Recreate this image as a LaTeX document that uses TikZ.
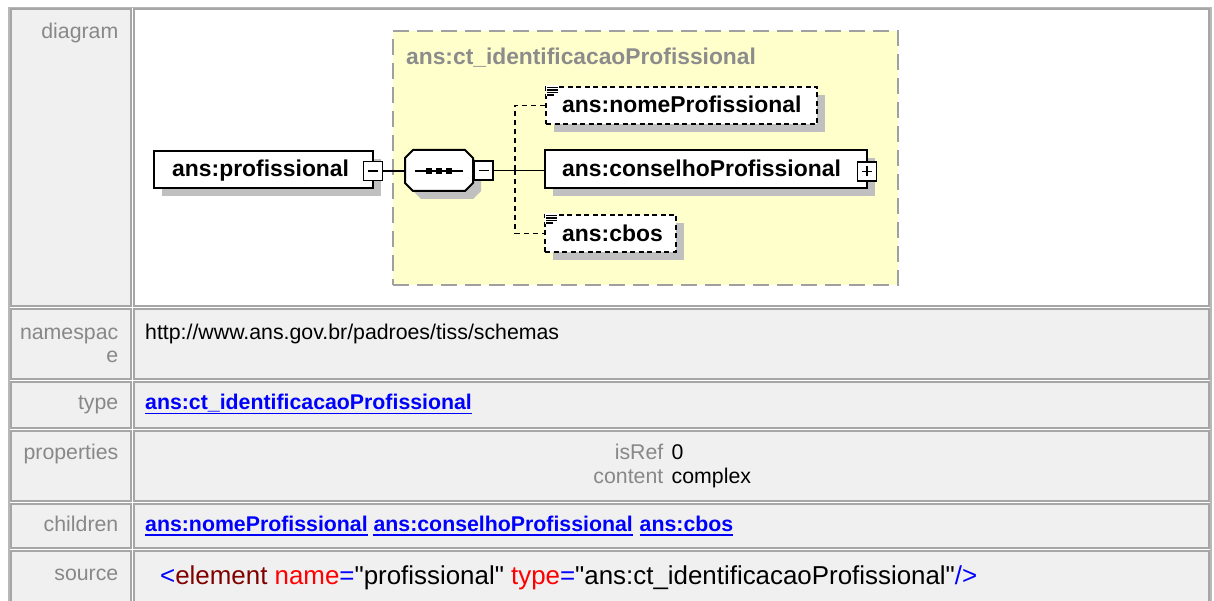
\documentclass[tikz,border=0pt]{standalone}
\usepackage{fontspec}
\setmainfont{Liberation Sans}
\newfontfamily\srcfont{Liberation Sans}[Ligatures=TeXOff]
\usetikzlibrary{shadows}
\definecolor{cellgray}{HTML}{F0F0F0}
\definecolor{tblgray}{HTML}{A6A6A6}
\definecolor{outergray}{HTML}{B8B8B8}
\definecolor{labgray}{HTML}{888888}
\definecolor{linkblue}{HTML}{0000FF}
\definecolor{ylw}{HTML}{FFFFCC}
\definecolor{ylwborder}{HTML}{A0A0A0}
\definecolor{shadowgray}{HTML}{C0C0C0}
\definecolor{titlegray}{HTML}{8C8C8C}
\definecolor{xmlblue}{HTML}{0000FF}
\definecolor{xmlelem}{HTML}{800000}
\definecolor{xmlattr}{HTML}{FF0000}
\newcommand\fsz[1]{\fontsize{#1}{#1}\selectfont}
\tikzset{
  cell/.style={draw=tblgray, line width=2pt},
  lab/.style={anchor=base east, inner sep=0pt, text=labgray, font=\fsz{21.3}},
  val/.style={anchor=base west, inner sep=0pt, font=\fsz{21.3}},
  lnk/.style={anchor=base west, inner sep=0pt, text=linkblue, font=\bfseries\fsz{21.3}},
  ul/.style={draw=linkblue, line width=1.5pt},
  srcstyle/.style={anchor=base west, inner sep=0pt, font=\srcfont\fsz{25.9}},
  ybox/.style={fill=ylw, draw=ylwborder, line width=2.5pt, dash pattern=on 16pt off 8pt, inner sep=0pt},
  ctitle/.style={anchor=base west, inner sep=0pt, text=titlegray, font=\bfseries\fsz{22.8}},
  elbox/.style={draw=black, fill=white, line width=2pt, inner sep=0pt,
    drop shadow={shadow xshift=8pt, shadow yshift=-8pt, fill=shadowgray, opacity=1}},
  optbox/.style={elbox, dash pattern=on 5pt off 3.5pt},
  eltext/.style={anchor=base west, inner sep=0pt, font=\bfseries\fsz{22.9}},
  pmbox/.style={draw=black, fill=white, line width=1.4pt, minimum size=19pt, inner sep=0pt},
  conn/.style={draw=black, line width=1.6pt},
  optconn/.style={conn, dash pattern=on 5pt off 4pt},
  sym/.style={line width=1.4pt},
  docline/.style={line width=1.3pt}
}
\begin{document}
\begin{tikzpicture}[x=1pt,y=-1pt]
\useasboundingbox (0,0) rectangle (1214,601);
\begin{scope}
\clip (0,0) rectangle (1214,601);
\fill[white] (0,0) rectangle (1214,601);
\draw[draw=outergray, line width=1.5pt] (9,7.5) rectangle (1211,640);
\foreach \t/\b/\f in {9.5/306/white, 308.5/379/cellgray, 381.5/428/cellgray, 430.5/501/cellgray, 503.5/548/cellgray, 550.5/640/cellgray} {
  \draw[cell, fill=cellgray] (11,\t) rectangle (131,\b);
  \draw[cell, fill=\f] (133.5,\t) rectangle (1208.5,\b);
}
\end{scope}

% labels
\node[lab] (ldiag) at (118.5,38.3) {diagram};
\node[lab] (lns1) at (118.5,339.3) {namespac};
\node[lab] (lns2) at (118.5,362.7) {e};
\node[lab] (ltype) at (118.5,409.5) {type};
\node[lab] (lprop) at (118.5,459.3) {properties};
\node[lab] (lchild) at (118.5,531.3) {children};
\node[lab] (lsrc) at (118.5,580.8) {source};

% content
\node[val] (ns) at (145,339) {http://www.ans.gov.br/padroes/tiss/schemas};
\node[lnk] (typ) at (145,409.8) {ans:ct\_identificacaoProfissional};
\draw[ul] ([yshift=-3.6pt]typ.base west) -- ([yshift=-3.6pt]typ.base east);

\node[lab] (p1l) at (663.5,459.3) {isRef};
\node[val] (p1v) at (671.5,459.3) {0};
\node[lab] (p2l) at (663.5,483.3) {content};
\node[val] (p2v) at (671.5,483.3) {complex};

\node[lnk] (c1) at (145,531.3) {ans:nomeProfissional};
\node[lnk] (c2) at (373.4,531.3) {ans:conselhoProfissional};
\node[lnk] (c3) at (639.5,531.3) {ans:cbos};
\foreach \n in {c1,c2,c3} {
  \draw[ul] ([yshift=-3.6pt]\n.base west) -- ([yshift=-3.6pt]\n.base east);
}

\node[srcstyle] (src) at (160,584) {\textcolor{xmlblue}{<}\textcolor{xmlelem}{element} \textcolor{xmlattr}{name}\textcolor{xmlblue}{=}"profissional" \textcolor{xmlattr}{type}\textcolor{xmlblue}{=}"ans:ct\_identificacaoProfissional"\textcolor{xmlblue}{/>}};

% diagram
\node[ybox, minimum width=505pt, minimum height=254pt] (ctype) at (645.5,158) {};
\node[ctitle] (ctt) at (406,64.3) {ans:ct\_identificacaoProfissional};

\coordinate (br) at (515,170.5);

% element boxes
\node[elbox, minimum width=219pt, minimum height=37pt] (prof) at (263.5,169.5) {};
\node[eltext] (proft) at (172,177) {ans:profissional};
\node[pmbox] (profm) at (373,171) {};
\draw[sym] ([xshift=-5pt]profm.center) -- ([xshift=5pt]profm.center);

% sequence
\node[minimum width=68pt, minimum height=41pt, inner sep=0pt] (seq) at (439,170.5) {};
\fill[shadowgray] (421,158) -- (473,158) -- (481,166) -- (481,191) -- (473,199) -- (421,199) -- (413,191) -- (413,166) -- cycle;
\draw[conn, fill=white, line width=2pt] (413,150) -- (465,150) -- (473,158) -- (473,183) -- (465,191) -- (413,191) -- (405,183) -- (405,158) -- cycle;
\draw[sym] (415,171) -- (463,171);
\foreach \sx in {429,439,449} { \fill (\sx-3,171-3) rectangle (\sx+3,171+3); }
\node[pmbox] (seqm) at (483.5,170.5) {};
\draw[sym] ([xshift=-5pt]seqm.center) -- ([xshift=5pt]seqm.center);

% children
\node[optbox, minimum width=271pt, minimum height=37pt] (nome) at (681.5,105.5) {};
\node[elbox, minimum width=322pt, minimum height=38pt] (cons) at (706,169) {};
\node[optbox, minimum width=131pt, minimum height=37pt] (cbos) at (610.5,233.5) {};

% connectors
\draw[optconn] (br) |- (nome.west);
\draw[optconn] (br) |- (cbos.west);
\draw[conn] (profm.east) -- (profm.east -| seq.west);
\draw[conn] (seqm.east) -- (seqm.east -| cons.west);

\node[eltext] (nomet) at (562,113) {ans:nomeProfissional};
\node[eltext] (const) at (562,176.5) {ans:conselhoProfissional};
\node[eltext] (cbost) at (562,241.2) {ans:cbos};

\node[pmbox] (consp) at (867,171.5) {};
\draw[sym] ([xshift=-5pt]consp.center) -- ([xshift=5pt]consp.center);
\draw[sym] ([yshift=-5pt]consp.center) -- ([yshift=5pt]consp.center);

% documentation icons
\foreach \b in {nome,cbos} {
  \fill[white] ([xshift=1pt,yshift=1pt]\b.north west) rectangle ([xshift=14pt,yshift=-10pt]\b.north west);
  \draw[docline] ([xshift=2pt,yshift=-1.5pt]\b.north west) -- ([xshift=13pt,yshift=-1.5pt]\b.north west);
  \draw[docline] ([xshift=2pt,yshift=-4pt]\b.north west) -- ([xshift=13pt,yshift=-4pt]\b.north west);
  \draw[docline] ([xshift=2pt,yshift=-6.5pt]\b.north west) -- ([xshift=13pt,yshift=-6.5pt]\b.north west);
  \draw[docline] ([xshift=2pt,yshift=-9pt]\b.north west) -- ([xshift=9pt,yshift=-9pt]\b.north west);
}
\end{tikzpicture}
\end{document}
